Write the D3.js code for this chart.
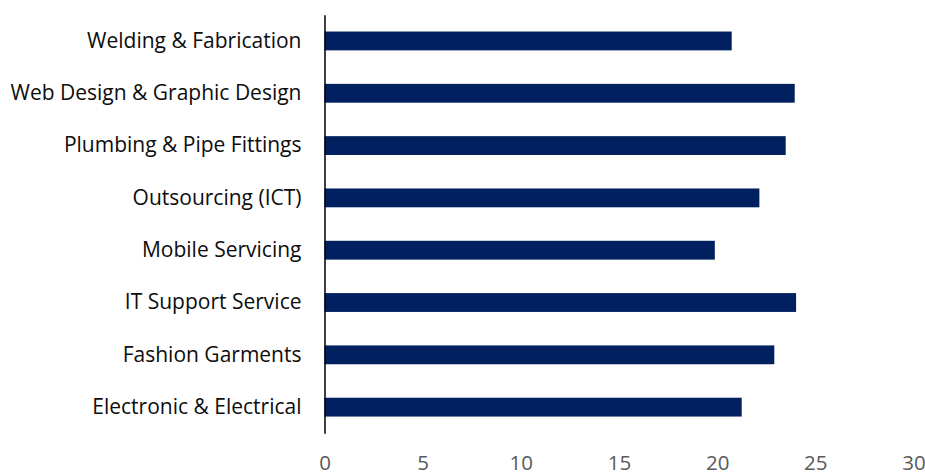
<!DOCTYPE html>
<html>
<head>
<meta charset="utf-8">
<script src="https://cdn.jsdelivr.net/npm/d3@7"></script>
<style>
  html, body { margin: 0; padding: 0; background: #fff; }
  svg { display: block; }
  .cat text { font-family: "Open Sans", Lato, sans-serif; font-size: 21px; fill: #0d0d0d; }
  .val text { font-family: "Open Sans", Lato, sans-serif; font-size: 20.5px; fill: #595959; }
</style>
</head>
<body>
<svg id="chart" width="925" height="473"></svg>
<script>
// Trades, top to bottom, with their average values
const categories = [
  "Welding & Fabrication",
  "Web Design & Graphic Design",
  "Plumbing & Pipe Fittings",
  "Outsourcing (ICT)",
  "Mobile Servicing",
  "IT Support Service",
  "Fashion Garments",
  "Electronic & Electrical"
];
const values = [20.74, 23.95, 23.49, 22.15, 19.88, 24.02, 22.91, 21.25];
const xTicks = [0, 5, 10, 15, 20, 25, 30];

const svg = d3.select("#chart");
const x0 = 324.5, x1 = 913.5, yTop = 14.8, yBottom = 433.3;

const x = d3.scaleLinear().domain([0, 30]).range([x0, x1]);
const y = d3.scaleBand().domain(categories).range([yTop, yBottom]).paddingInner(0.64).paddingOuter(0.32);

// bars
svg.append("g")
  .selectAll("rect")
  .data(categories.map((c, i) => ({ c, v: values[i] })))
  .join("rect")
  .attr("x", x(0))
  .attr("y", d => y(d.c))
  .attr("width", d => x(d.v) - x(0))
  .attr("height", y.bandwidth())
  .attr("fill", "#002060");

// category axis (vertical line, no ticks)
const yAxis = svg.append("g")
  .attr("class", "cat")
  .attr("transform", `translate(${x0},0)`)
  .call(d3.axisLeft(y).tickSize(0).tickPadding(23));
yAxis.select(".domain").attr("stroke", "#000").attr("stroke-width", 1.5);

// value axis labels (no line)
const xAxis = svg.append("g")
  .attr("class", "val")
  .attr("transform", `translate(0,${yBottom})`)
  .call(d3.axisBottom(x).tickValues(xTicks).tickSize(0).tickPadding(22.5));
xAxis.select(".domain").remove();
</script>
</body>
</html>
